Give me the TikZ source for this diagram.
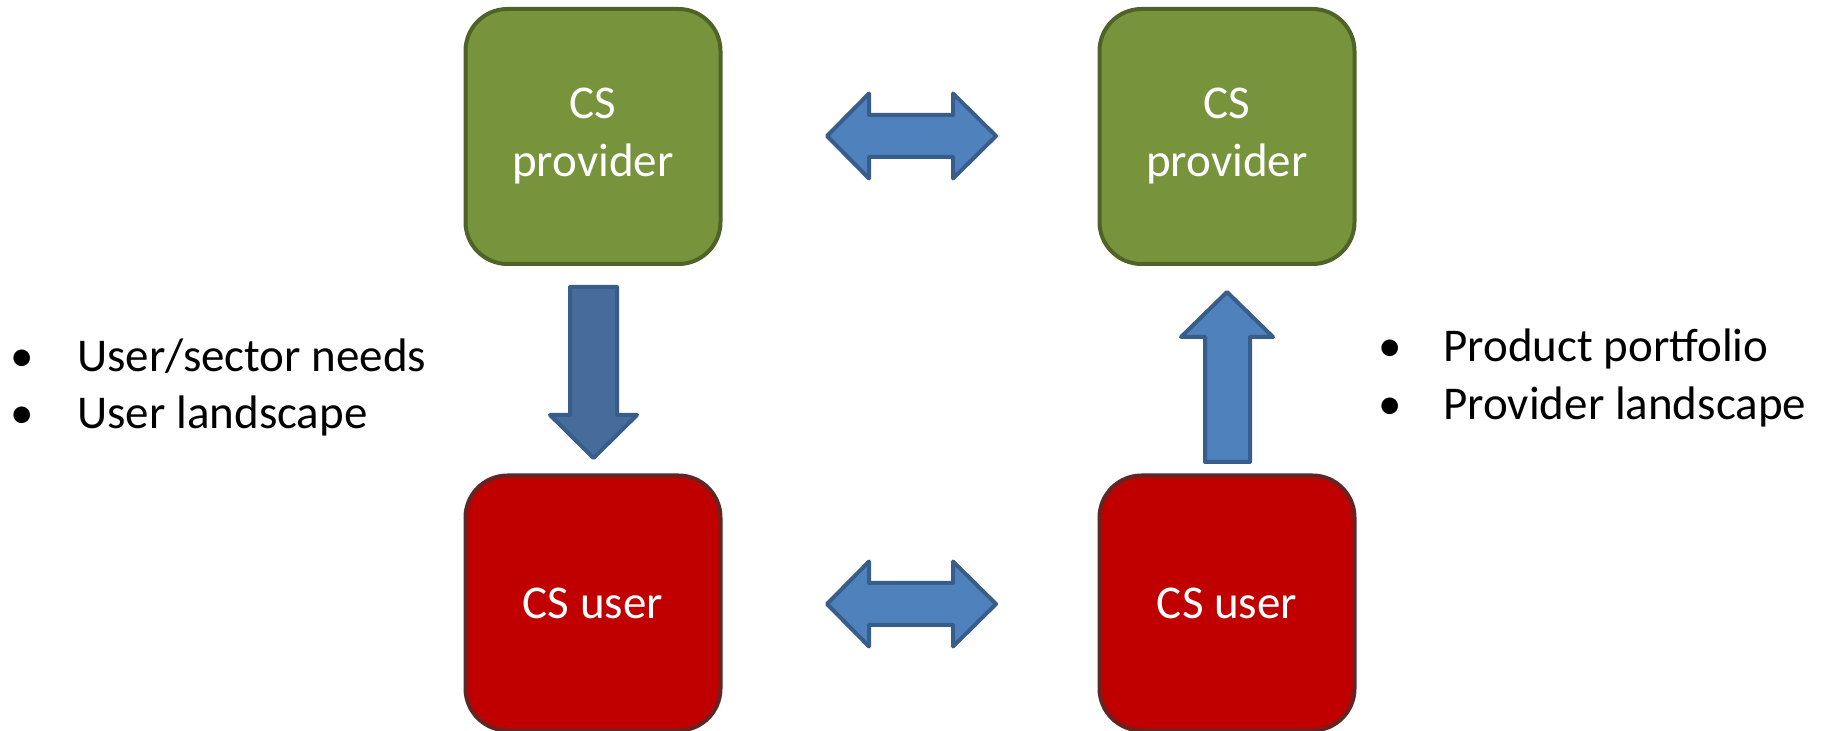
\documentclass[tikz,border=0pt]{standalone}
\usepackage{fontspec}
\setmainfont{Carlito}

\definecolor{provfill}{HTML}{77933C}
\definecolor{provdraw}{HTML}{4F6228}
\definecolor{userfill}{HTML}{C00000}
\definecolor{userdraw}{HTML}{632523}
\definecolor{arrfill}{HTML}{4F81BD}
\definecolor{arrdark}{HTML}{476C9B}
\definecolor{arrdraw}{HTML}{385D8A}

\tikzset{
  box/.style={draw, line width=2pt, rounded corners=21pt,
    minimum width=127.5pt, minimum height=127.5pt,
    text=white, align=center, font=\fontsize{23.5}{29}\selectfont},
  provider/.style={box, fill=provfill, draw=provdraw},
  user/.style={box, fill=userfill, draw=userdraw},
  blockarrow/.style={fill=arrfill, draw=arrdraw, line width=2pt, line join=round},
  itemtext/.style={anchor=base west, inner sep=0pt, font=\fontsize{23.5}{28.5}\selectfont},
  itemdot/.style={anchor=base, inner sep=0pt, font=\fontsize{23.5}{28.5}\selectfont}
}

\begin{document}
\begin{tikzpicture}[x=0.5pt, y=-0.5pt]
	\useasboundingbox (0,0) rectangle (1831,731);
	\node[provider] (provL) at (593,136.5) {CS\\provider};
	\node[provider] (provR) at (1227,136.5) {CS\\provider};
	\node[user] (userL) at (593,603) {CS user};
	\node[user] (userR) at (1227,603) {CS user};

	% double arrows between the two columns
	\foreach \y in {136,604}
	  {
	    \draw[blockarrow] (827,\y) -- (869,\y-42.5) -- (869,\y-21) -- (953,\y-21)
	      -- (953,\y-42.5) -- (996,\y) -- (953,\y+42.5) -- (953,\y+21)
	      -- (869,\y+21) -- (869,\y+42.5) -- cycle;
	  }
	% provider -> user
	\draw[blockarrow, fill=arrdark] (570,287) -- (617,287) -- (617,415) -- (637,415)
	  -- (593.5,458) -- (550,415) -- (570,415) -- cycle;
	% user -> provider
	\draw[blockarrow] (1205,462) -- (1250,462) -- (1250,337) -- (1273,337)
	  -- (1227,292) -- (1181,337) -- (1205,337) -- cycle;

	\foreach \txt [count=\i] in {User/sector needs, User landscape}
	  {
	    \node[itemdot] (dotL\i) at (22,315+57*\i) {•};
	    \node[itemtext] (itemL\i) at (77,315+57*\i) {\txt};
	  }
	\foreach \txt [count=\i] in {Product portfolio, Provider landscape}
	  {
	    \node[itemdot] (dotR\i) at (1390,304+58*\i) {•};
	    \node[itemtext] (itemR\i) at (1443,304+58*\i) {\txt};
	  }
\end{tikzpicture}
\end{document}
